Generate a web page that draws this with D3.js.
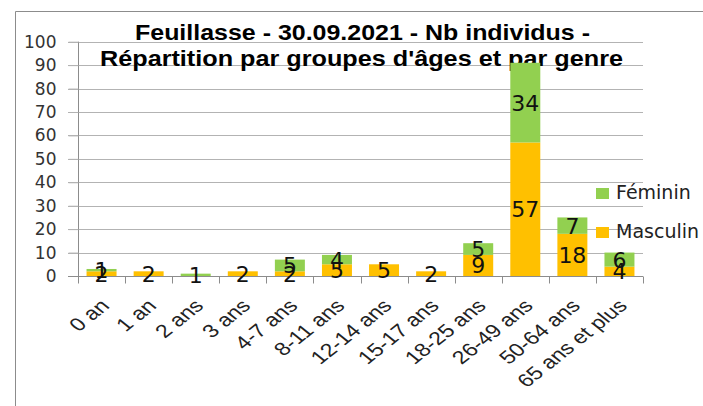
<!DOCTYPE html>
<html>
<head>
<meta charset="utf-8">
<script src="https://cdn.jsdelivr.net/npm/d3@7"></script>
<style>
  html, body { margin: 0; padding: 0; background: #fff; }
  svg { display: block; }
</style>
</head>
<body>
<svg id="chart" width="703" height="406"></svg>
<script>
const categories = ["0 an", "1 an", "2 ans", "3 ans", "4-7 ans", "8-11 ans", "12-14 ans", "15-17 ans", "18-25 ans", "26-49 ans", "50-64 ans", "65 ans et plus"];
const masculin = [2, 2, 0, 2, 2, 5, 5, 2, 9, 57, 18, 4];
const feminin  = [1, 0, 1, 0, 5, 4, 0, 0, 5, 34, 7, 6];
const seriesNames = ["Masculin", "Féminin"];
const yTicks = [0, 10, 20, 30, 40, 50, 60, 70, 80, 90, 100];
const titleLines = ["Feuillasse - 30.09.2021 - Nb individus -", "Répartition par groupes d'âges et par genre"];
const colors = { "Masculin": "#FFC000", "Féminin": "#92D050" };

(function () {
const svg = d3.select("#chart");

// frame
svg.append("path").attr("d", "M15.5,406 L15.5,11.5 L703,11.5")
  .attr("fill", "none").attr("stroke", "#8c8c8c").attr("stroke-width", 1);

const pLeft = 78, pRight = 643, pTop = 41.7, pBottom = 276;
const pad = 0.363;
const x = d3.scaleBand().domain(categories).range([pLeft, pRight]).paddingInner(pad).paddingOuter(pad / 2);
const y = d3.scaleLinear().domain([0, 100]).range([pBottom, pTop]);
const step = x.step();

// gridlines
svg.append("g").selectAll("line").data(yTicks).join("line")
  .attr("x1", pLeft - 10).attr("x2", pRight)
  .attr("y1", d => Math.round(y(d)) + 0.5).attr("y2", d => Math.round(y(d)) + 0.5)
  .attr("stroke", "#b3b3b3").attr("stroke-width", 1);

// title
const titleG = svg.append("g").attr("font-family", "'Liberation Sans', Arial, sans-serif")
  .attr("font-weight", "bold").attr("font-size", 22).attr("fill", "#000");
titleG.append("text").attr("x", 135).attr("y", 40).attr("textLength", 455)
  .attr("lengthAdjust", "spacingAndGlyphs").text(titleLines[0]);
titleG.append("text").attr("x", 100).attr("y", 66).attr("textLength", 523)
  .attr("lengthAdjust", "spacingAndGlyphs").text(titleLines[1]);

// stacked bars
const rows = categories.map((c, i) => ({ cat: c, "Masculin": masculin[i], "Féminin": feminin[i] }));
const stack = d3.stack().keys(seriesNames)(rows);

const barsG = svg.append("g");
stack.forEach(layer => {
  barsG.append("g").attr("fill", colors[layer.key])
    .selectAll("rect").data(layer).join("rect")
    .attr("x", d => x(d.data.cat))
    .attr("width", x.bandwidth())
    .attr("y", d => y(d[1]))
    .attr("height", d => y(d[0]) - y(d[1]));
});

// y axis
const yAxis = svg.append("g").attr("transform", `translate(${pLeft + 0.5},0)`)
  .call(d3.axisLeft(y).tickValues(yTicks).tickSize(10).tickPadding(12).tickFormat(d3.format("d")));
yAxis.selectAll(".tick line").attr("stroke", "#b3b3b3");
yAxis.selectAll(".tick text").attr("font-family", "'DejaVu Sans', sans-serif")
  .attr("font-size", 17).attr("fill", "#333");
yAxis.select(".domain").attr("stroke", "#8c8c8c").attr("d", `M0,${pTop}V${pBottom + 7}`);

// x axis baseline and boundary ticks
const xAxis = svg.append("g").attr("transform", `translate(0,${Math.round(pBottom) + 0.5})`)
  .call(d3.axisBottom(x).tickSize(0).tickFormat(""));
xAxis.select(".domain").attr("stroke", "#8c8c8c").attr("d", `M${pLeft - 10},0H${pRight}`);
const boundaries = d3.range(categories.length + 1).map(i => pLeft + i * step);
xAxis.append("g").selectAll("line").data(boundaries).join("line")
  .attr("x1", d => Math.round(d) + 0.5).attr("x2", d => Math.round(d) + 0.5)
  .attr("y1", 0).attr("y2", 7).attr("stroke", "#8c8c8c");

// x labels
svg.append("g").selectAll("text").data(categories).join("text")
  .attr("transform", d => `translate(${x(d) + x.bandwidth() / 2 + 9},307) scale(1.25,1) rotate(-45)`)
  .attr("text-anchor", "end")
  .attr("font-family", "'Liberation Sans', Arial, sans-serif")
  .attr("font-size", 18.5).attr("fill", "#222")
  .text(d => d);

// data labels
const labelsG = svg.append("g").attr("font-family", "'DejaVu Sans', sans-serif")
  .attr("font-size", 22).attr("fill", "#111").attr("text-anchor", "middle");
stack.forEach(layer => {
  labelsG.append("g").selectAll("text").data(layer.filter(d => d[1] - d[0] > 0)).join("text")
    .attr("x", d => x(d.data.cat) + x.bandwidth() / 2)
    .attr("y", d => (y(d[0]) + y(d[1])) / 2)
    .attr("dy", "0.36em")
    .text(d => d[1] - d[0]);
});

// legend
const legendItems = ["Féminin", "Masculin"];
const legendY = [188, 227];
const legend = svg.append("g");
legendItems.forEach((name, i) => {
  legend.append("rect").attr("x", 596).attr("y", legendY[i]).attr("width", 13).attr("height", 11)
    .attr("fill", colors[name]);
  legend.append("text").attr("x", 616).attr("y", legendY[i] + 11)
    .attr("font-family", "'DejaVu Sans', sans-serif").attr("font-size", 19).attr("fill", "#222")
    .text(name);
});
})();
</script>
</body>
</html>
